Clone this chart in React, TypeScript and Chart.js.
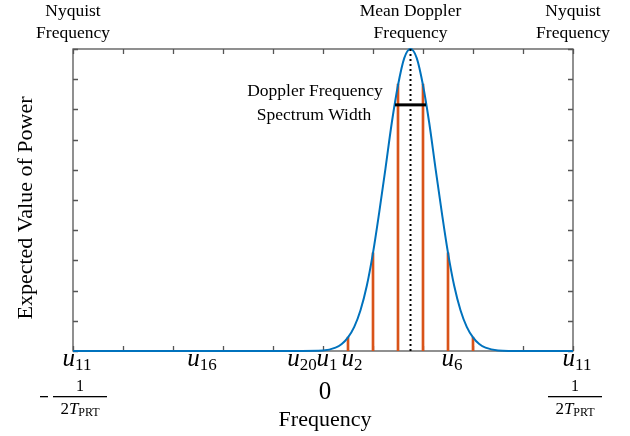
import React, { useEffect, useRef } from "react";
import { Chart, registerables } from "chart.js";

Chart.register(...registerables);

// Spectrum curve (frequency in units of 1/T_PRT)
const curveX = [-0.5, -0.1, 0, 0.025, 0.0375, 0.05, 0.0625, 0.075, 0.0875, 0.1, 0.1125, 0.125, 0.1375, 0.15, 0.1625, 0.175, 0.1875, 0.2, 0.2125, 0.225, 0.2375, 0.25, 0.2625, 0.275, 0.2875, 0.3, 0.3125, 0.325, 0.35, 0.4, 0.5];
const curveY = [0, 0, 0.002, 0.011, 0.023, 0.045, 0.08, 0.135, 0.215, 0.325, 0.46, 0.605, 0.755, 0.88, 0.97, 1, 0.97, 0.88, 0.755, 0.605, 0.46, 0.325, 0.215, 0.135, 0.08, 0.045, 0.023, 0.011, 0.002, 0, 0];

// Samples (stems)
const stemX = [0.05, 0.1, 0.15, 0.2, 0.25, 0.3];
const stemY = [0.046, 0.325, 0.884, 0.884, 0.325, 0.046];

const meanFreq = 0.175;
const widthBarX = [0.144, 0.206];
const widthBarY = 0.815;

const uLabelValues = [-0.5, -0.25, -0.05, 0, 0.05, 0.25, 0.5];
const uLabelSubs = ["11", "16", "20", "1", "2", "6", "11"];

const topLabelValues = [-0.5, meanFreq, 0.5];
const topLabelLines = [["Nyquist", "Frequency"], ["Mean Doppler", "Frequency"], ["Nyquist", "Frequency"]];

const xTickStep = 0.1;
const yTickStep = 0.1;

const SERIF = '"Liberation Serif", "Times New Roman", serif';

const decorPlugin = {
  id: "decor",
  beforeDatasetsDraw(chart: any) {
    const { ctx, chartArea, scales } = chart;
    const { left, right, top, bottom } = chartArea;
    const xs = scales.x, ys = scales.y;
    ctx.save();
    ctx.strokeStyle = "#555555";
    ctx.lineWidth = 1.3;
    ctx.strokeRect(left, top, right - left, bottom - top);
    ctx.beginPath();
    const tl = 5;
    for (let v = -0.5; v <= 0.5001; v += xTickStep) {
      const px = Math.round(xs.getPixelForValue(v)) + 0.5;
      ctx.moveTo(px, bottom); ctx.lineTo(px, bottom - tl);
      ctx.moveTo(px, top); ctx.lineTo(px, top + tl);
    }
    for (let v = 0; v <= 1.0001; v += yTickStep) {
      const py = Math.round(ys.getPixelForValue(v)) + 0.5;
      ctx.moveTo(left, py); ctx.lineTo(left + tl, py);
      ctx.moveTo(right, py); ctx.lineTo(right - tl, py);
    }
    ctx.stroke();
    ctx.restore();
  },
  afterDraw(chart: any) {
    const { ctx, chartArea, scales } = chart;
    const xs = scales.x;
    ctx.save();
    ctx.fillStyle = "#000";
    ctx.textBaseline = "alphabetic";

    // top labels
    ctx.font = `17.5px ${SERIF}`;
    ctx.textAlign = "center";
    topLabelValues.forEach((v, i) => {
      const px = xs.getPixelForValue(v);
      ctx.fillText(topLabelLines[i][0], px, 16);
      ctx.fillText(topLabelLines[i][1], px, 38);
    });

    // annotation
    ctx.font = `17.5px ${SERIF}`;
    ctx.fillText("Doppler Frequency", 315, 96);
    ctx.fillText("Spectrum Width", 314, 120);

    // u labels
    uLabelValues.forEach((v, i) => {
      const px = xs.getPixelForValue(v) + 4;
      ctx.font = `italic 25px ${SERIF}`;
      const wu = ctx.measureText("u").width;
      ctx.font = `17px ${SERIF}`;
      const ws = ctx.measureText(uLabelSubs[i]).width;
      const x0 = px - (wu + ws) / 2;
      ctx.textAlign = "left";
      ctx.font = `italic 25px ${SERIF}`;
      ctx.fillText("u", x0, 366);
      ctx.font = `17px ${SERIF}`;
      ctx.fillText(uLabelSubs[i], x0 + wu, 370);
    });

    // zero
    ctx.textAlign = "center";
    ctx.font = `25px ${SERIF}`;
    ctx.fillText("0", xs.getPixelForValue(0) + 2, 399);

    // fractions
    const drawFrac = (cx: number, neg: boolean) => {
      ctx.textAlign = "center";
      ctx.font = `16px ${SERIF}`;
      ctx.fillText("1", cx, 391);
      ctx.fillRect(cx - 27, 396, 54, 1.3);
      ctx.font = `17px ${SERIF}`;
      const w2 = ctx.measureText("2").width;
      ctx.font = `italic 17px ${SERIF}`;
      const wT = ctx.measureText("T").width;
      ctx.font = `12px ${SERIF}`;
      const wP = ctx.measureText("PRT").width;
      let x0 = cx - (w2 + wT + wP) / 2;
      ctx.textAlign = "left";
      ctx.font = `17px ${SERIF}`;
      ctx.fillText("2", x0, 414);
      ctx.font = `italic 17px ${SERIF}`;
      ctx.fillText("T", x0 + w2, 414);
      ctx.font = `12px ${SERIF}`;
      ctx.fillText("PRT", x0 + w2 + wT, 416);
      if (neg) {
        ctx.fillRect(cx - 40, 396, 8, 1.3);
      }
    };
    drawFrac(xs.getPixelForValue(-0.5) + 7, true);
    drawFrac(xs.getPixelForValue(0.5) + 2, false);

    // axis titles
    ctx.textAlign = "center";
    ctx.font = `22px ${SERIF}`;
    ctx.fillText("Frequency", (chartArea.left + chartArea.right) / 2 + 2, 426);

    ctx.save();
    ctx.translate(32, (chartArea.top + chartArea.bottom) / 2 + 8);
    ctx.rotate(-Math.PI / 2);
    ctx.font = `22px ${SERIF}`;
    ctx.textBaseline = "alphabetic";
    ctx.fillText("Expected Value of Power", 0, 0);
    ctx.restore();

    ctx.restore();
  },
};

export default function App() {
  const ref = useRef<HTMLCanvasElement | null>(null);
  useEffect(() => {
    document.body.style.margin = "0";
    const canvas = ref.current!;
    const chart = new Chart(canvas, {
      type: "line",
      data: {
        datasets: [
          {
            type: "line",
            data: curveX.map((x, i) => ({ x, y: curveY[i] })),
            borderColor: "#0072BD",
            borderWidth: 2,
            pointRadius: 0,
            cubicInterpolationMode: "monotone",
            fill: false,
            clip: false,
            order: 1,
          } as any,
          {
            type: "bar",
            data: stemX.map((x, i) => ({ x, y: stemY[i] })),
            backgroundColor: "#D95319",
            borderWidth: 0,
            barThickness: 2,
            order: 2,
          } as any,
          {
            type: "line",
            data: [{ x: meanFreq, y: 0 }, { x: meanFreq, y: 1 }],
            borderColor: "#000",
            borderWidth: 2,
            borderDash: [2, 3],
            pointRadius: 0,
            clip: false,
            order: 0,
          } as any,
          {
            type: "line",
            data: [{ x: widthBarX[0], y: widthBarY }, { x: widthBarX[1], y: widthBarY }],
            borderColor: "#000",
            borderWidth: 3,
            pointRadius: 0,
            clip: false,
            order: 0,
          } as any,
        ],
      },
      options: {
        animation: false,
        responsive: false,
        parsing: true as any,
        layout: { padding: { left: 73, right: 57, top: 49, bottom: 85 } },
        plugins: { legend: { display: false }, tooltip: { enabled: false } },
        scales: {
          x: { type: "linear", min: -0.5, max: 0.5, display: false, offset: false },
          y: { type: "linear", min: 0, max: 1, display: false },
        },
      },
      plugins: [decorPlugin],
    });
    return () => chart.destroy();
  }, []);
  return (
    <div style={{ position: "absolute", left: 0, top: 0, width: 630, height: 436, background: "#fff" }}>
      <canvas ref={ref} width={630} height={436} style={{ width: 630, height: 436 }} />
    </div>
  );
}
